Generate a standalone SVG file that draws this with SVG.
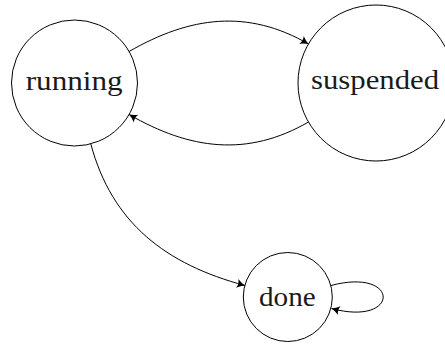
<svg xmlns="http://www.w3.org/2000/svg" width="445" height="347" viewBox="0 0 445 347">
  <style>
    .state { fill: #ffffff; stroke: #000000; stroke-width: 1; }
    .label { font-family: "Liberation Serif", "Times New Roman", serif; font-size: 28px; fill: #1a1a1a; }
    .edge { fill: none; stroke: #000000; stroke-width: 1; marker-end: url(#head); }
  </style>
  <defs>
    <marker id="head" markerUnits="userSpaceOnUse" markerWidth="10" markerHeight="10" viewBox="-7 -4 8 8" refX="0" refY="0" orient="auto">
      <path d="M0,0 Q-3.5,-1.2 -6.5,-3.6 Q-4.6,0 -6.5,3.6 Q-3.5,1.2 0,0 Z" fill="#000000"/>
    </marker>
  </defs>

  <g id="running">
    <circle class="state" cx="74.5" cy="83" r="63"/>
    <text class="label" x="25.7" y="89.5" textLength="97" lengthAdjust="spacingAndGlyphs">running</text>
  </g>

  <g id="suspended">
    <circle class="state" cx="376" cy="83" r="78"/>
    <text class="label" x="311" y="89.3" textLength="128" lengthAdjust="spacingAndGlyphs">suspended</text>
  </g>

  <g id="done">
    <circle class="state" cx="287.8" cy="297" r="44.5"/>
    <text class="label" x="259" y="305.7" textLength="56.7" lengthAdjust="spacingAndGlyphs">done</text>
  </g>

  <g id="connectors">
    <!-- running to suspended, bent upward -->
    <path class="edge" d="M129.1,51.5 C190,16.4 247.6,8.8 308.5,44"/>
    <!-- suspended back to running, bent downward -->
    <path class="edge" d="M308.5,122 C247.6,157.2 190,149.7 129.1,114.5"/>
    <!-- running to done -->
    <path class="edge" d="M90.8,143.9 C112,223.1 165.8,264.3 245,285.5"/>
    <!-- self loop on done -->
    <path class="edge" d="M331,285.5 C400.5,266.9 400.5,327.1 331.5,308.5"/>
  </g>
</svg>
